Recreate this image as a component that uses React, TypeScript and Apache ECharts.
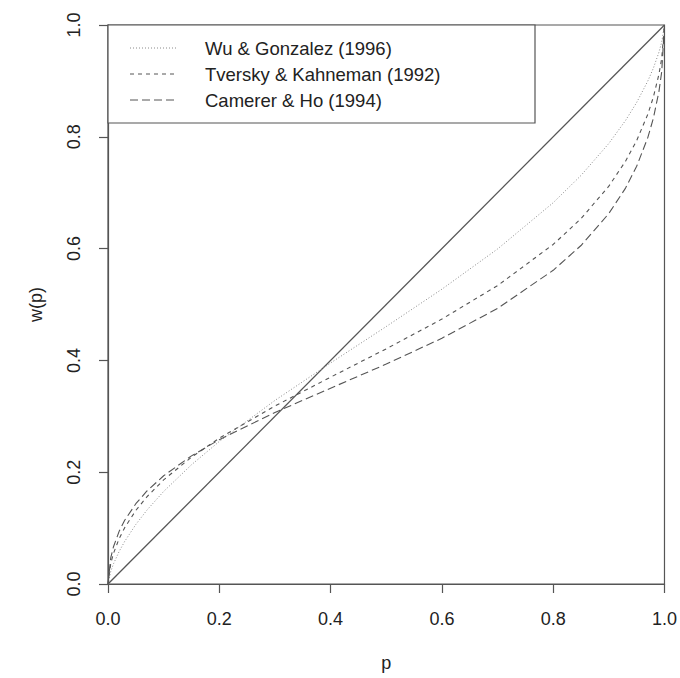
import React, { useEffect, useRef } from "react";
import * as echarts from "echarts";

// Probabilities (x) at which curves were read
const pValues = [0, 0.005, 0.01, 0.02, 0.03, 0.05, 0.07, 0.1, 0.15, 0.2, 0.3, 0.4, 0.5, 0.6, 0.7, 0.8, 0.85, 0.9, 0.93, 0.95, 0.97, 0.98, 0.99, 0.995, 1];
// Wu & Gonzalez (1996) — dotted
const wuGonzalez = [0, 0.0226, 0.0364, 0.0582, 0.0762, 0.1065, 0.1322, 0.1656, 0.2133, 0.255, 0.3284, 0.3954, 0.4606, 0.5274, 0.5993, 0.6821, 0.7309, 0.7881, 0.8292, 0.8614, 0.8997, 0.9227, 0.9512, 0.9694, 1];
// Tversky & Kahneman (1992) — short dashes
const tverskyKahneman = [0, 0.0372, 0.0552, 0.0811, 0.1008, 0.1316, 0.1561, 0.1863, 0.2269, 0.2608, 0.3184, 0.37, 0.4207, 0.4739, 0.5338, 0.6074, 0.6536, 0.7117, 0.7563, 0.7932, 0.8403, 0.871, 0.9117, 0.9402, 1];
// Camerer & Ho (1994) — long dashes
const camererHo = [0, 0.0472, 0.0672, 0.0942, 0.114, 0.1436, 0.1664, 0.1936, 0.2292, 0.2582, 0.3068, 0.3503, 0.3934, 0.4396, 0.493, 0.5612, 0.6055, 0.6628, 0.7082, 0.7472, 0.7986, 0.8332, 0.8809, 0.9162, 1];
// Diagonal w(p) = p
const diagonalX = [0, 1];
const diagonalY = [0, 1];

const seriesNames = ["Wu & Gonzalez (1996)", "Tversky & Kahneman (1992)", "Camerer & Ho (1994)"];
const axisTicks = [0, 0.2, 0.4, 0.6, 0.8, 1.0];

const FONT = "'Liberation Sans', Arial, Helvetica, sans-serif";

export default function App() {
  const ref = useRef<HTMLDivElement>(null);

  useEffect(() => {
    if (!ref.current) return;
    const chart = echarts.init(ref.current, undefined, { renderer: "svg" });
    const pair = (ys: number[]) => pValues.map((p, i) => [p, ys[i]]);

    const left = 108, right = 665, top = 25, bottom = 584;

    const legendX = left, legendY = top, legendW = 427, legendH = 98;
    const rowY = [48, 74, 100];
    const dashes = [[1, 2], [4, 4], [8, 4]];
    const legendColors = ["#8a8a8a", "#555", "#555"];

    const graphic: any[] = [
      {
        type: "rect",
        shape: { x: legendX, y: legendY, width: legendW, height: legendH },
        style: { fill: "#fff", stroke: "#555", lineWidth: 1.2 },
        z: 10,
      },
    ];
    seriesNames.forEach((name, i) => {
      graphic.push({
        type: "line",
        shape: { x1: 130, y1: rowY[i], x2: 178, y2: rowY[i] },
        style: { stroke: legendColors[i], lineWidth: 1, lineDash: dashes[i] },
        z: 11,
      });
      graphic.push({
        type: "text",
        x: 205,
        y: rowY[i],
        style: {
          text: name,
          fill: "#222",
          font: `18.5px ${FONT}`,
          textVerticalAlign: "middle",
          verticalAlign: "middle",
        },
        z: 11,
      });
    });

    chart.setOption({
      animation: false,
      backgroundColor: "#fff",
      grid: {
        left,
        right: 680 - right,
        top,
        bottom: 678 - bottom,
        show: true,
        borderColor: "#555",
        borderWidth: 1.2,
        backgroundColor: "transparent",
      },
      xAxis: {
        type: "value",
        min: 0,
        max: 1,
        interval: 0.2,
        name: "p",
        nameLocation: "middle",
        nameGap: 70,
        nameTextStyle: { fontSize: 18, color: "#222", fontFamily: FONT },
        axisLine: { show: true, onZero: false, lineStyle: { color: "#555", width: 1.2 } },
        axisTick: { show: true, length: 9, lineStyle: { color: "#555", width: 1.2 } },
        axisLabel: {
          fontSize: 18,
          color: "#222",
          fontFamily: FONT,
          margin: 26,
          formatter: (v: number) => (axisTicks.some((t) => Math.abs(t - v) < 1e-9) ? v.toFixed(1) : ""),
        },
        splitLine: { show: false },
      },
      yAxis: {
        type: "value",
        min: 0,
        max: 1,
        interval: 0.2,
        name: "w(p)",
        nameLocation: "middle",
        nameGap: 63,
        nameRotate: 90,
        nameTextStyle: { fontSize: 18, color: "#222", fontFamily: FONT },
        axisLine: { show: true, onZero: false, lineStyle: { color: "#555", width: 1.2 } },
        axisTick: { show: true, length: 9, lineStyle: { color: "#555", width: 1.2 } },
        axisLabel: {
          fontSize: 18,
          color: "#222",
          fontFamily: FONT,
          margin: 25,
          rotate: 90,
          formatter: (v: number) => v.toFixed(1),
        },
        splitLine: { show: false },
      },
      graphic,
      series: [
        {
          type: "line",
          name: "diagonal",
          data: diagonalX.map((x, i) => [x, diagonalY[i]]),
          symbol: "none",
          silent: true,
          lineStyle: { color: "#555", width: 1.3, type: "solid" },
        },
        {
          type: "line",
          name: seriesNames[0],
          data: pair(wuGonzalez),
          symbol: "none",
          smooth: false,
          silent: true,
          lineStyle: { color: "#8a8a8a", width: 1, type: [1, 2] },
        },
        {
          type: "line",
          name: seriesNames[1],
          data: pair(tverskyKahneman),
          symbol: "none",
          smooth: false,
          silent: true,
          lineStyle: { color: "#555", width: 1.1, type: [4, 4] },
        },
        {
          type: "line",
          name: seriesNames[2],
          data: pair(camererHo),
          symbol: "none",
          smooth: false,
          silent: true,
          lineStyle: { color: "#555", width: 1.1, type: [8, 4] },
        },
      ],
    });

    return () => chart.dispose();
  }, []);

  return (
    <div
      ref={ref}
      style={{ position: "fixed", left: 0, top: 0, width: 680, height: 678, background: "#fff" }}
    />
  );
}
